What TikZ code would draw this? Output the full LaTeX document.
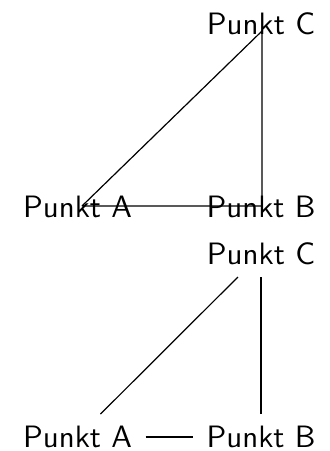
\documentclass[tikz,border=0pt]{standalone}
\begin{document}
\begin{tikzpicture}[x=0.3333pt,y=-0.3333pt,
  lbl/.style={font=\sffamily\fontsize{10.3}{12}\selectfont, inner sep=0pt},
  pt/.style={font=\sffamily\fontsize{10.3}{12}\selectfont, inner xsep=4.4pt, inner ysep=3.8pt},
  edge/.style={draw=black, line width=0.4pt}]
\useasboundingbox (0,0) rectangle (329,451);
% top triangle
\node[lbl] (tA) at (77.5,207) {Punkt A};
\node[lbl] (tB) at (261,207) {Punkt B};
\node[lbl] (tC) at (261,24) {Punkt C};
\coordinate (a) at (82,206);
\coordinate (b) at (262,206);
\coordinate (c) at (262,31);
\draw[edge] (a) -- (b) -- (c) -- (a);
% bottom triangle
\node[pt] (A) at (77.5,437) {Punkt A};
\node[pt] (B) at (261,437) {Punkt B};
\node[pt] (C) at (261,254) {Punkt C};
\draw[edge] (A) -- (B);
\draw[edge] (A) -- (C);
\draw[edge] (B) -- (C);
\end{tikzpicture}
\end{document}
